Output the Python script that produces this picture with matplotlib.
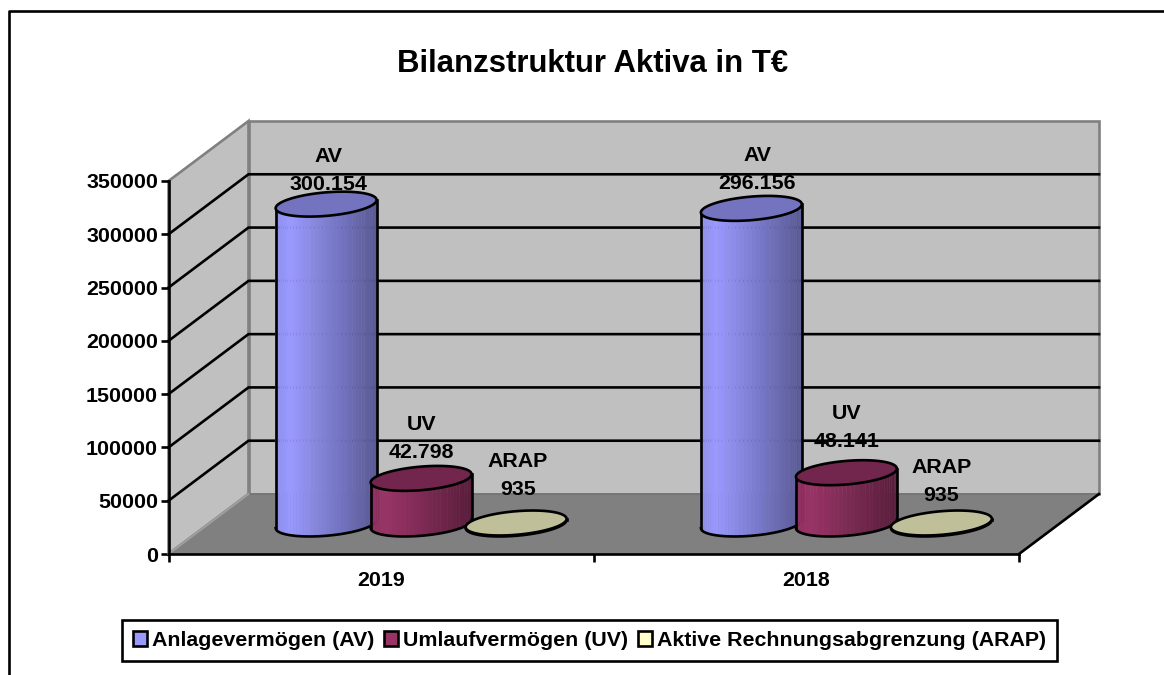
import matplotlib
matplotlib.use('Agg')
import matplotlib.pyplot as plt
from matplotlib.lines import Line2D
from matplotlib.patches import Patch, Polygon
from matplotlib.colors import to_rgb
import numpy as np

plt.rcParams['font.family'] = ['Liberation Sans', 'DejaVu Sans']
plt.rcParams['font.weight'] = 'bold'

# Daten
jahre = ['2019', '2018']
serien = ['Anlagevermögen (AV)', 'Umlaufvermögen (UV)', 'Aktive Rechnungsabgrenzung (ARAP)']
kurz = ['AV', 'UV', 'ARAP']
werte_2019 = [300154, 42798, 935]
werte_2018 = [296156, 48141, 935]
y_ticks = [0, 50000, 100000, 150000, 200000, 250000, 300000, 350000]
farben = ['#9999FF', '#993366', '#FFFFCC']

label_dx = [[2, 0, 1.5], [6, 0, 0]]
label_dy = [[34, 40, 48], [38.5, 45.5, 42]]

W, H = 1164, 675
X0, X1, Y0, Y1 = 168.5, 1019.0, 554.0, 181.0  # Vorderkante des Diagramms in Pixeln
DEPTH_PX = (80.0, 60.0)
YMAX = y_ticks[-1]
LW = 1.9
FS = 15.4

fig = plt.figure(figsize=(W / 100, H / 100), dpi=100, facecolor='white')
ax = fig.add_axes([X0 / W, 1 - Y0 / H, (X1 - X0) / W, (Y0 - Y1) / H])
ax.set_xlim(0, 2)
ax.set_ylim(0, YMAX)
ax.patch.set_visible(False)

DX = DEPTH_PX[0] / (X1 - X0) * 2
DY = DEPTH_PX[1] / (Y0 - Y1) * YMAX


def depth(x, y, d):
    # schraege Projektion: d=0 vorne, d=1 hinten
    return x + d * DX, y + d * DY


def flaeche(punkte, **kw):
    ax.add_patch(Polygon([depth(*p) for p in punkte], closed=True, clip_on=False, **kw))


# Waende und Boden
wand = dict(facecolor='#C0C0C0', edgecolor='#808080', linewidth=LW, zorder=1)
flaeche([(0, 0, 1), (2, 0, 1), (2, YMAX, 1), (0, YMAX, 1)], **wand)
flaeche([(0, 0, 0), (0, 0, 1), (0, YMAX, 1), (0, YMAX, 0)], **wand)

# Gitterlinien
for y in y_ticks[1:-1]:
    xb, yb = depth(0, y, 1)
    xe, ye = depth(2, y, 1)
    ax.plot([0, xb, xe], [y, yb, ye], color='black', lw=LW, zorder=2, clip_on=False)

flaeche([(0, 0, 0), (2, 0, 0), (2, 0, 1), (0, 0, 1)],
        facecolor='#808080', edgecolor='#707070', linewidth=1.0, zorder=3)
xb, yb = depth(2, 0, 1)
ax.plot([2, xb], [0, yb], color='black', lw=LW, zorder=4, clip_on=False)
xb, yb = depth(0, 0, 1)
ax.plot([0, xb], [0, yb], color='#A0A0A0', lw=1.4, zorder=4, clip_on=False)


def zylinder(xc, wert, farbe, z):
    a = 0.112       # halbe Breite in x-Einheiten
    tiefe = 0.208   # halbe Tiefe als Anteil der Wandtiefe
    t = np.linspace(0, 2 * np.pi, 200)
    ex = xc + a * np.cos(t) + tiefe * DX * np.sin(t)
    ey = tiefe * DY * np.sin(t)
    xm, ym = depth(xc, 0, 0.5)
    ex = ex + (xm - xc)
    ey = ey + ym

    # Vorderseite als schmale Streifen mit Verlauf
    t0 = np.arctan2(tiefe * DX, a)
    tt = np.linspace(t0 - np.pi, t0, 41)
    sx = xc + (xm - xc) + a * np.cos(tt) + tiefe * DX * np.sin(tt)
    sy = ym + tiefe * DY * np.sin(tt)
    rgb = np.array(to_rgb(farbe))
    for i in range(len(tt) - 1):
        u = (0.5 * (sx[i] + sx[i + 1]) - sx.min()) / (sx.max() - sx.min())
        f = np.interp(u, [0, 0.15, 1], [0.93, 1.0, 0.58])
        ax.fill([sx[i], sx[i + 1], sx[i + 1], sx[i]],
                [sy[i], sy[i + 1], sy[i + 1] + wert, sy[i] + wert],
                color=rgb * f, lw=0.3, zorder=z)

    ax.plot([sx[0], sx[0]], [sy[0], sy[0] + wert], color='black', lw=LW, zorder=z + 0.1)
    ax.plot([sx[-1], sx[-1]], [sy[-1], sy[-1] + wert], color='black', lw=LW, zorder=z + 0.1)
    ax.plot(sx, sy, color='black', lw=LW, zorder=z + 0.1)
    ax.fill(ex, ey + wert, facecolor=rgb * 0.75, edgecolor='black', lw=LW, zorder=z + 0.2)
    return xm, ym + wert


# Zylinder und Beschriftung
abstand = 95.0 / (X1 - X0) * 2
for i, werte in enumerate([werte_2019, werte_2018]):
    for j, wert in enumerate(werte):
        xc = i + 0.5 + (j - 1) * abstand
        xt, yt = zylinder(xc, wert, farben[j], 5 + i + j * 0.3)
        text = kurz[j] + '\n' + f'{wert:,}'.replace(',', '.')
        ax.annotate(text, xy=(xt, yt), xycoords='data',
                    xytext=(label_dx[i][j], label_dy[i][j]), textcoords='offset pixels',
                    ha='center', va='center', fontsize=FS, linespacing=1.6,
                    color='black', zorder=9, annotation_clip=False)

# Achsen
for s in ['top', 'right']:
    ax.spines[s].set_visible(False)
for s in ['left', 'bottom']:
    ax.spines[s].set_linewidth(LW)
    ax.spines[s].set_zorder(4)

ax.set_yticks(y_ticks)
ax.set_yticklabels([str(v) for v in y_ticks], fontsize=FS, fontweight='bold')
ax.tick_params(axis='y', length=5.5, width=LW, pad=2)
ax.set_xticks([0, 1, 2])
ax.set_xticklabels([])
ax.tick_params(axis='x', length=5.5, width=LW)
ax.set_xticks([0.5, 1.5], minor=True)
ax.set_xticklabels(jahre, minor=True, fontsize=FS, fontweight='bold')
ax.tick_params(axis='x', which='minor', length=0, pad=12.4)

# Titel, Rahmen, Legende
fig.text(592.5 / W, 1 - 64 / H, 'Bilanzstruktur Aktiva in T€', ha='center', va='center',
         fontsize=22.4, fontweight='bold')
fig.add_artist(Line2D([8.5 / W, 8.5 / W, 1], [0, 1 - 11 / H, 1 - 11 / H], color='black', lw=LW))

griffe = [Patch(facecolor=f, edgecolor='black', linewidth=LW) for f in farben]
leg = fig.legend(griffe, serien, ncol=3, loc='center', bbox_to_anchor=(589.5 / W, 1 - 640.5 / H),
                 prop={'size': FS, 'weight': 'bold'}, fancybox=False, framealpha=1, edgecolor='black',
                 handlelength=0.65, handleheight=0.65, handletextpad=0.25, columnspacing=0.45,
                 borderpad=0.5, borderaxespad=0)
leg.get_frame().set_linewidth(LW)

fig.savefig('out.png', dpi=100)
